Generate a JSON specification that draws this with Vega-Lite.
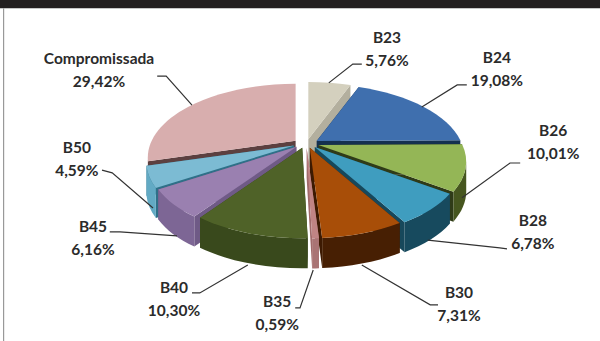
{
  "$schema": "https://vega.github.io/schema/vega-lite/v6.json",
  "width": 600,
  "height": 341,
  "padding": 0,
  "autosize": {"type": "none"},
  "background": "#ffffff",
  "view": {"stroke": null},
  "params": [
    {"name": "rx", "value": 144},
    {"name": "ry", "value": 70},
    {"name": "tilt", "value": 0.226},
    {"name": "wallDepth", "value": 30},
    {"name": "ex", "value": 13},
    {"name": "ey", "value": 4.5}
  ],
  "data": {
    "values": [
      {"slice": "B23", "value": 5.76},
      {"slice": "B24", "value": 19.08},
      {"slice": "B26", "value": 10.01},
      {"slice": "B28", "value": 6.78},
      {"slice": "B30", "value": 7.31},
      {"slice": "B35", "value": 0.59},
      {"slice": "B40", "value": 10.30},
      {"slice": "B45", "value": 6.16},
      {"slice": "B50", "value": 4.59},
      {"slice": "Compromissada", "value": 29.42}
    ]
  },
  "transform": [
    {"window": [{"op": "sum", "field": "value", "as": "cum"}]},
    {"calculate": "(datum.cum - datum.value) / 100 * 2 * PI", "as": "a0"},
    {"calculate": "datum.cum / 100 * 2 * PI", "as": "a1"},
    {"calculate": "(datum.a0 + datum.a1) / 2", "as": "mid"},
    {"calculate": "51 + ex * sin(datum.mid) / 6", "as": "cx"},
    {"calculate": "42.1 - ey * cos(datum.mid) / 3.41", "as": "cy"},
    {"calculate": "-cos(datum.mid)", "as": "front"},
    {"calculate": "round(100 * rx * sin(datum.a0) / (1 + tilt * cos(datum.a0))) / 100", "as": "x0"},
    {"calculate": "round(-100 * ry * cos(datum.a0) / (1 + tilt * cos(datum.a0))) / 100", "as": "y0"},
    {"calculate": "round(100 * rx * sin(datum.a1) / (1 + tilt * cos(datum.a1))) / 100", "as": "x1"},
    {"calculate": "round(-100 * ry * cos(datum.a1) / (1 + tilt * cos(datum.a1))) / 100", "as": "y1"},
    {"calculate": "round(100 * rx / sqrt(1 - tilt * tilt)) / 100 + ',' + round(100 * ry / (1 - tilt * tilt)) / 100", "as": "radii"},
    {"calculate": "'M0,0L' + datum.x0 + ',' + datum.y0 + 'A' + datum.radii + ' 0 0 1 ' + datum.x1 + ',' + datum.y1 + 'Z'", "as": "pathTop"},
    {"calculate": "datum.x0 > 0 ? 'M0,0L' + datum.x0 + ',' + datum.y0 + 'L' + datum.x0 + ',' + (datum.y0 + wallDepth) + 'L0,' + wallDepth + 'Z' : 'M' + datum.x0 + ',' + datum.y0 + 'L0,0L0,' + wallDepth + 'L' + datum.x0 + ',' + (datum.y0 + wallDepth) + 'Z'", "as": "cut0"},
    {"calculate": "datum.x1 > 0 ? 'M0,0L' + datum.x1 + ',' + datum.y1 + 'L' + datum.x1 + ',' + (datum.y1 + wallDepth) + 'L0,' + wallDepth + 'Z' : 'M' + datum.x1 + ',' + datum.y1 + 'L0,0L0,' + wallDepth + 'L' + datum.x1 + ',' + (datum.y1 + wallDepth) + 'Z'", "as": "cut1"},
    {"calculate": "datum.cut0 + datum.cut1", "as": "pathCut"},
    {"calculate": "acos(-tilt)", "as": "tangent"},
    {"calculate": "max(datum.a0, datum.tangent)", "as": "w0"},
    {"calculate": "min(datum.a1, 2 * PI - datum.tangent)", "as": "w1"},
    {"calculate": "round(100 * rx * sin(datum.w0) / (1 + tilt * cos(datum.w0))) / 100", "as": "wx0"},
    {"calculate": "round(-100 * ry * cos(datum.w0) / (1 + tilt * cos(datum.w0))) / 100", "as": "wy0"},
    {"calculate": "round(100 * rx * sin(datum.w1) / (1 + tilt * cos(datum.w1))) / 100", "as": "wx1"},
    {"calculate": "round(-100 * ry * cos(datum.w1) / (1 + tilt * cos(datum.w1))) / 100", "as": "wy1"},
    {"calculate": "'M' + datum.wx0 + ',' + datum.wy0 + 'A' + datum.radii + ' 0 0 1 ' + datum.wx1 + ',' + datum.wy1 + 'L' + datum.wx1 + ',' + (datum.wy1 + wallDepth) + 'A' + datum.radii + ' 0 0 0 ' + datum.wx0 + ',' + (datum.wy0 + wallDepth) + 'Z'", "as": "pathWall"},
    {"calculate": "datum.slice + '\\n' + replace(format(datum.value, '.2f'), '.', ',') + '%'", "as": "caption"}
  ],
  "layer": [
    {
      "mark": {"type": "point", "filled": true, "opacity": 1, "size": 4},
      "encoding": {
        "x": {"field": "cx", "type": "quantitative", "scale": {"domain": [0, 100]}, "axis": null},
        "y": {"field": "cy", "type": "quantitative", "scale": {"domain": [0, 100], "reverse": true}, "axis": null},
        "order": {"field": "front", "type": "quantitative"},
        "shape": {"field": "pathCut", "type": "nominal", "scale": null, "legend": null},
        "fill": {
          "field": "slice", "type": "nominal", "legend": null,
          "scale": {
            "domain": ["B23", "B24", "B26", "B28", "B30", "B35", "B40", "B45", "B50", "Compromissada"],
            "range": ["#b3af9e", "#14304f", "#2f3b18", "#17485b", "#3d1a02", "#a06a6a", "#36461a", "#6f5a86", "#2f7088", "#5c4040"]
          }
        }
      }
    },
    {
      "transform": [{"filter": "datum.w1 > datum.w0"}],
      "mark": {"type": "point", "filled": true, "opacity": 1, "size": 4},
      "encoding": {
        "x": {"field": "cx", "type": "quantitative", "scale": {"domain": [0, 100]}, "axis": null},
        "y": {"field": "cy", "type": "quantitative", "scale": {"domain": [0, 100], "reverse": true}, "axis": null},
        "order": {"field": "front", "type": "quantitative"},
        "shape": {"field": "pathWall", "type": "nominal", "scale": null, "legend": null},
        "fill": {
          "field": "slice", "type": "nominal", "legend": null,
          "scale": {
            "domain": ["B23", "B24", "B26", "B28", "B30", "B35", "B40", "B45", "B50", "Compromissada"],
            "range": ["#b3af9e", "#14304f", "#46561f", "#174a5e", "#471f03", "#a97474", "#39491c", "#7d6695", "#62aac4", "#9c7b7b"]
          }
        }
      }
    },
    {
      "mark": {"type": "point", "filled": true, "opacity": 1, "size": 4},
      "encoding": {
        "x": {"field": "cx", "type": "quantitative", "scale": {"domain": [0, 100]}, "axis": null},
        "y": {"field": "cy", "type": "quantitative", "scale": {"domain": [0, 100], "reverse": true}, "axis": null},
        "order": {"field": "front", "type": "quantitative"},
        "shape": {"field": "pathTop", "type": "nominal", "scale": null, "legend": null},
        "fill": {
          "field": "slice", "type": "nominal", "legend": null,
          "scale": {
            "domain": ["B23", "B24", "B26", "B28", "B30", "B35", "B40", "B45", "B50", "Compromissada"],
            "range": ["#d4d0be", "#3f6fae", "#94b656", "#3f9dbf", "#a84e08", "#c08484", "#4f6228", "#9a80b0", "#7cbbd3", "#d8aeae"]
          }
        }
      }
    },
    {
      "transform": [
        {"calculate": "{'B23':[60.3,58.8,54.8],'B24':[77.8,76.2,70.3],'B26':[86.7,85,77],'B28':[84.5,83.3,71.3],'B30':[73,71.7,60.3],'B35':[49.2,50,52.2],'B40':[32,33.3,41.3],'B45':[18.3,20,29.5],'B50':[17,18.7,25.5],'Compromissada':[26.2,27.7,32]}[datum.slice]", "as": "lx"},
        {"calculate": "{'B23':[18.8,18.8,24.3],'B24':[24.9,24.9,31.4],'B26':[47.8,47.8,58],'B28':[73,72.7,70.4],'B30':[89.4,89.4,77.7],'B35':[90.3,90.3,79.2],'B40':[85.9,85.9,77.7],'B45':[68,68,69.2],'B50':[49.9,50.7,61],'Compromissada':[22.3,22.3,30.8]}[datum.slice]", "as": "ly"},
        {"calculate": "[0, 1, 2]", "as": "step"},
        {"flatten": ["lx", "ly", "step"]}
      ],
      "mark": {"type": "line", "color": "#333333", "strokeWidth": 1.2},
      "encoding": {
        "x": {"field": "lx", "type": "quantitative", "scale": {"domain": [0, 100]}, "axis": null},
        "y": {"field": "ly", "type": "quantitative", "scale": {"domain": [0, 100], "reverse": true}, "axis": null},
        "detail": {"field": "slice", "type": "nominal"},
        "order": {"field": "step", "type": "quantitative"}
      }
    },
    {
      "transform": [
        {"calculate": "{'B23':64.5,'B24':82.8,'B26':92.2,'B28':88.8,'B30':76.5,'B35':46.2,'B40':29,'B45':15.5,'B50':12.8,'Compromissada':16.5}[datum.slice]", "as": "tx"},
        {"calculate": "{'B23':11.2,'B24':16.9,'B26':38.4,'B28':64.7,'B30':86,'B35':88.6,'B40':84.4,'B45':66.5,'B50':43.3,'Compromissada':17.4}[datum.slice]", "as": "ty"}
      ],
      "mark": {"type": "text", "font": "Lato", "fontWeight": "bold", "fontSize": 15.5, "color": "#2b2b2b", "lineBreak": "\n", "lineHeight": 23, "align": "center", "baseline": "middle"},
      "encoding": {
        "x": {"field": "tx", "type": "quantitative", "scale": {"domain": [0, 100]}, "axis": null},
        "y": {"field": "ty", "type": "quantitative", "scale": {"domain": [0, 100], "reverse": true}, "axis": null},
        "text": {"field": "caption", "type": "nominal"}
      }
    },
    {
      "data": {"values": [{"x": 0, "x2": 100, "y": 0, "y2": 2.4}]},
      "mark": {"type": "rect", "color": "#231f20"},
      "encoding": {
        "x": {"field": "x", "type": "quantitative", "scale": {"domain": [0, 100]}, "axis": null},
        "x2": {"field": "x2"},
        "y": {"field": "y", "type": "quantitative", "scale": {"domain": [0, 100], "reverse": true}, "axis": null},
        "y2": {"field": "y2"}
      }
    },
    {
      "data": {"values": [{"x": 0.6, "y": 2.4, "y2": 100}]},
      "mark": {"type": "rule", "color": "#999999", "strokeWidth": 1.2},
      "encoding": {
        "x": {"field": "x", "type": "quantitative", "scale": {"domain": [0, 100]}, "axis": null},
        "y": {"field": "y", "type": "quantitative", "scale": {"domain": [0, 100], "reverse": true}, "axis": null},
        "y2": {"field": "y2"}
      }
    }
  ],
  "resolve": {"scale": {"fill": "independent"}}
}
